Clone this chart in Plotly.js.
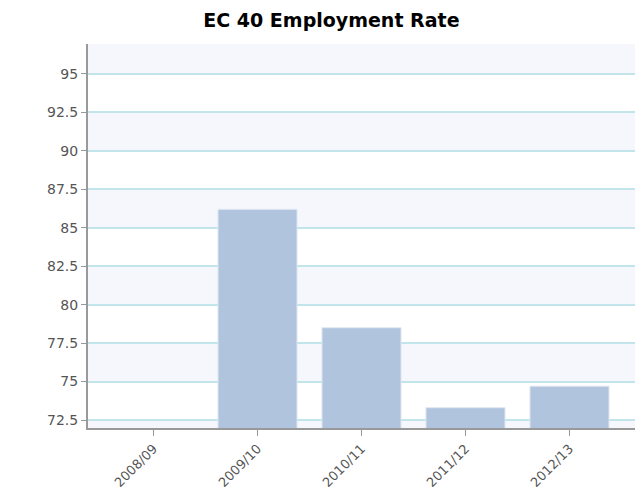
<!DOCTYPE html>
<html><head><meta charset="utf-8">
<script src="https://cdn.plot.ly/plotly-3.0.1.min.js"></script>
<style>body{margin:0;background:#fff}#chart{width:641px;height:504px}</style>
</head><body><div id="chart"></div>
<script>
const categories = ["2008/09", "2009/10", "2010/11", "2011/12", "2012/13"];
const employmentRate = [null, 86.2, 78.5, 73.3, 74.7];
const yTicks = [72.5, 75, 77.5, 80, 82.5, 85, 87.5, 90, 92.5, 95];
const yRange = [71.98, 96.95];

// alternating background bands between gridlines
const shapes = [];
const edges = [yRange[0]].concat(yTicks, [yRange[1]]);
for (let i = 0; i < edges.length - 1; i++) {
  const fromTop = edges.length - 2 - i;
  if (fromTop % 2 === 0) {
    shapes.push({type: 'rect', xref: 'paper', yref: 'y', x0: 0, x1: 1,
      y0: edges[i], y1: edges[i + 1], fillcolor: '#f6f7fd', line: {width: 0}, layer: 'below'});
  }
}

Plotly.newPlot('chart', [{
  type: 'bar', x: categories, y: employmentRate,
  marker: {color: '#b0c4de', line: {color: '#dfe7f1', width: 1}},
  width: 0.76, hoverinfo: 'x+y'
}], {
  width: 641, height: 504,
  margin: {l: 88, r: 6, t: 44, b: 76},
  paper_bgcolor: '#ffffff', plot_bgcolor: '#ffffff',
  title: {text: '<b>EC 40 Employment Rate</b>', x: 0.517, xanchor: 'center', y: 0.96, yanchor: 'middle',
    font: {family: 'DejaVu Sans', size: 19, color: '#000'}},
  shapes: shapes,
  xaxis: {type: 'category', range: [-0.63, 4.63], showgrid: false, zeroline: false,
    showline: true, linecolor: '#999', linewidth: 2,
    ticks: 'outside', ticklen: 6, tickcolor: '#999', tickangle: -45,
    tickfont: {family: 'DejaVu Sans', size: 13, color: '#555'}},
  yaxis: {range: yRange, tickvals: yTicks, ticktext: yTicks.map(String),
    showgrid: true, gridcolor: '#c2e5eb', gridwidth: 2, zeroline: false,
    showline: true, linecolor: '#999', linewidth: 2,
    ticks: 'outside', ticklen: 5, tickcolor: '#999',
    tickfont: {family: 'DejaVu Sans', size: 14, color: '#555'}},
  showlegend: false
}, {displayModeBar: false, staticPlot: true});
</script></body></html>
